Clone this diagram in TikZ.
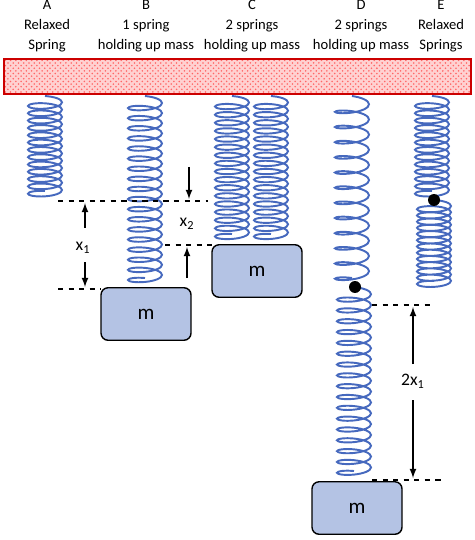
\documentclass[tikz,border=0pt]{standalone}
\usepackage{fontspec}
\setmainfont{Carlito}
\usetikzlibrary{patterns}
\definecolor{springblue}{RGB}{70,105,190}
\definecolor{massblue}{RGB}{180,195,228}
\tikzstyle{spring}=[draw=springblue,line width=1.1pt]
\tikzstyle{mass}=[shape=rectangle,rounded corners=4pt,draw=black,thick,fill=massblue,minimum width=1.8cm,minimum height=1.05cm,font=\large]
\tikzstyle{bead}=[shape=circle,fill=black,inner sep=0pt,minimum size=0.24cm]
\tikzstyle{guide}=[dashed,thick]
\tikzstyle{caption}=[align=center,font=\fontsize{8.3}{11.5}\selectfont,inner sep=0pt]
% xc, ytop, ybottom, turns, half width
\newcommand{\coil}[5]{%
  \draw[spring] plot[smooth,domain=0:#4,samples=#4*16+1,variable=\t]
    ({#1+#5*sin(\t*360)},{#2+(#3-#2)*\t/#4+4.5*(1-cos(\t*360))});}

\begin{document}
\begin{tikzpicture}[x=0.02cm,y=-0.02cm]
        \useasboundingbox (0,0) rectangle (474,540);
        % captions
        \node[caption] (capA) at (47,26)  {A\\Relaxed\\Spring};
        \node[caption] (capB) at (146,26) {B\\1 spring\\holding up mass};
        \node[caption] (capC) at (252,26) {C\\2 springs\\holding up mass};
        \node[caption] (capD) at (361,26) {D\\2 springs\\holding up mass};
        \node[caption] (capE) at (441,26) {E\\Relaxed\\Springs};

        % ceiling
        \fill[red!18] (4,59) rectangle (471,94);
        \fill[pattern=crosshatch dots,pattern color=red!60] (4,59) rectangle (471,94);
        \draw[red!80!black,thick] (4,59) rectangle (471,94);

        % springs
        \coil{45}{96}{191}{13}{17}
        \coil{145}{96}{278}{18}{17}
        \coil{232}{96}{234}{17}{17}
        \coil{271}{96}{234}{17}{17}
        \coil{352}{96}{278}{12}{17}
        \coil{354}{287}{471}{17}{17}
        \coil{432}{96}{191}{13}{17}
        \coil{434}{200}{281}{13}{17}

        % masses and beads
        \node[mass] (mB) at (146,314) {m};
        \node[mass] (mC) at (257,271) {m};
        \node[mass] (mD) at (357,508) {m};
        \node[bead] (bD) at (355,287) {};
        \node[bead] (bE) at (434,200) {};

        % guide lines
        \coordinate (gA1) at (58,201);  \coordinate (gA2) at (208,201);
        \coordinate (gB1) at (58,289);  \coordinate (gB2) at (101,289);
        \coordinate (gC1) at (165,245); \coordinate (gC2) at (212,245);
        \coordinate (gE1) at (372,305); \coordinate (gE2) at (432,305);
        \coordinate (gD1) at (372,480); \coordinate (gD2) at (443,480);
        \draw[guide] (gA1) -- (gA2);
        \draw[guide] (gB1) -- (gB2);
        \draw[guide] (gC1) -- (gC2);
        \draw[guide] (gE1) -- (gE2);
        \draw[guide] (gD1) -- (gD2);

        % measures
        \node (x1) at (83,248) {x\textsubscript{1}};
        \node (x2) at (187,224) {x\textsubscript{2}};
        \node (x3) at (413,381) {2x\textsubscript{1}};
        \coordinate (a1) at (85,228); \coordinate (a2) at (85,203);
        \coordinate (a3) at (85,262); \coordinate (a4) at (85,287);
        \coordinate (b1) at (189,167); \coordinate (b2) at (189,199);
        \coordinate (b3) at (187,278); \coordinate (b4) at (187,247);
        \coordinate (c1) at (413,364); \coordinate (c2) at (413,307);
        \coordinate (c3) at (413,400); \coordinate (c4) at (413,478);
        \draw [-latex,thick] (a1) to (a2);
        \draw [-latex,thick] (a3) to (a4);
        \draw [-latex,thick] (b1) to (b2);
        \draw [-latex,thick] (b3) to (b4);
        \draw [-latex,thick] (c1) to (c2);
        \draw [-latex,thick] (c3) to (c4);
\end{tikzpicture}
\end{document}
